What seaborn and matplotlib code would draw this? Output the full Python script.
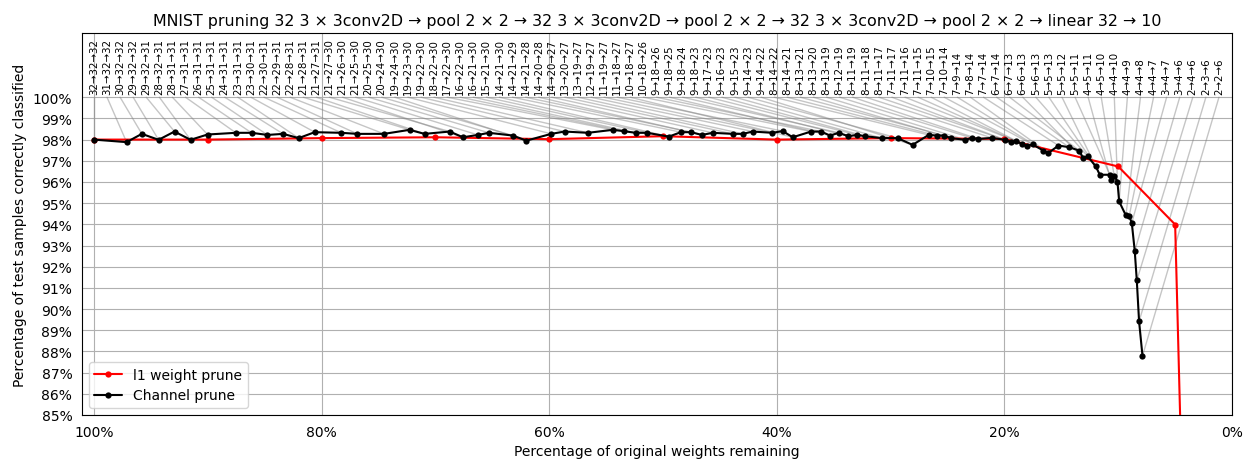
import numpy as np
import pandas as pd
import matplotlib
matplotlib.use("Agg")
import matplotlib.pyplot as plt
import seaborn as sns

title = ("MNIST pruning 32 3 × 3conv2D → pool 2 × 2 → 32 3 × 3conv2D → pool 2 × 2 → "
         "32 3 × 3conv2D → pool 2 × 2 → linear 32 → 10")
x_label = "Percentage of original weights remaining"
y_label = "Percentage of test samples correctly classified"

channel_labels = [
    "32→32→32", "31→32→32", "30→32→32", "29→32→32", "29→32→31", "28→32→31",
    "28→31→31", "27→31→31", "26→31→31", "25→31→31", "24→31→31", "23→31→31",
    "23→30→31", "22→30→31", "22→29→31", "22→28→31", "21→28→31", "21→27→31",
    "21→27→30", "21→26→30", "21→25→30", "20→25→30", "20→24→30", "19→24→30",
    "19→23→30", "19→22→30", "18→22→30", "17→22→30", "16→22→30", "16→21→30",
    "15→21→30", "14→21→30", "14→21→29", "14→21→28", "14→20→28", "14→20→27",
    "13→20→27", "13→19→27", "12→19→27", "11→19→27", "11→18→27", "10→18→27",
    "10→18→26", "9→18→26", "9→18→25", "9→18→24", "9→18→23", "9→17→23",
    "9→16→23", "9→15→23", "9→14→23", "9→14→22", "8→14→22", "8→14→21",
    "8→13→21", "8→13→20", "8→13→19", "8→12→19", "8→11→19", "8→11→18",
    "8→11→17", "7→11→17", "7→11→16", "7→11→15", "7→10→15", "7→10→14",
    "7→9→14", "7→8→14", "7→7→14", "6→7→14", "6→7→13", "6→6→13",
    "5→6→13", "5→5→13", "5→5→12", "5→5→11", "4→5→11", "4→5→10",
    "4→4→10", "4→4→9", "4→4→8", "4→4→7", "3→4→7", "3→4→6",
    "2→4→6", "2→3→6", "2→2→6",
]

channel_x = [
    100.0, 97.13, 95.79, 94.32, 92.92, 91.51, 90.02, 87.53, 86.15, 84.75,
    83.38, 82.01, 80.60, 78.26, 76.86, 74.52, 72.27, 70.95, 68.74, 67.58,
    66.26, 65.29, 63.18, 62.01, 59.82, 58.65, 56.60, 54.41, 53.47, 52.41,
    51.39, 49.49, 48.43, 47.52, 46.59, 45.62, 43.87, 42.99, 42.11, 40.41,
    39.48, 38.60, 36.99, 36.11, 35.32, 34.56, 33.71, 32.95, 32.22, 30.79,
    29.38, 28.07, 26.66, 25.96, 25.29, 24.70, 23.44, 22.89, 22.30, 21.10,
    19.96, 19.43, 18.99, 18.47, 18.06, 17.53, 16.57, 16.13, 15.25, 14.31,
    13.43, 13.08, 12.70, 11.97, 11.62, 10.74, 10.65, 10.36, 10.07, 9.92,
    9.33, 9.04, 8.81, 8.55, 8.37, 8.17, 7.87,
]
channel_y = [
    98.00, 97.88, 98.27, 97.99, 98.38, 97.99, 98.24, 98.32, 98.32, 98.22,
    98.27, 98.07, 98.35, 98.32, 98.27, 98.27, 98.46, 98.27, 98.38, 98.11,
    98.22, 98.32, 98.19, 97.95, 98.27, 98.38, 98.32, 98.46, 98.40, 98.32,
    98.32, 98.14, 98.35, 98.35, 98.22, 98.32, 98.27, 98.27, 98.38, 98.32,
    98.40, 98.11, 98.38, 98.38, 98.19, 98.32, 98.16, 98.22, 98.16, 98.07,
    98.07, 97.75, 98.22, 98.19, 98.19, 98.07, 97.99, 98.08, 98.03, 98.08,
    97.99, 97.88, 97.93, 97.80, 97.69, 97.77, 97.48, 97.37, 97.72, 97.64,
    97.48, 97.12, 97.22, 96.73, 96.34, 96.34, 96.07, 96.30, 96.02, 95.08,
    94.42, 94.39, 94.07, 92.74, 91.35, 89.42, 87.79,
]

l1_x = [100, 90, 80, 70, 60, 50, 40, 30, 20, 10, 5, 1]
l1_y = [98.00, 98.00, 98.07, 98.11, 98.02, 98.16, 98.00, 98.07, 98.03, 96.73, 93.99, 11.35]

x_ticks = [100, 80, 60, 40, 20, 0]
y_ticks = list(range(85, 101))

sns.set_style("white")
plt.rcParams["font.family"] = ["DejaVu Sans"]
plt.rcParams.update({
    "text.color": "black",
    "axes.labelcolor": "black",
    "xtick.color": "black",
    "ytick.color": "black",
    "axes.edgecolor": "black",
})

fig, ax = plt.subplots(figsize=(12.44, 4.6), dpi=100)
fig.subplots_adjust(left=0.0659, right=0.9904, top=0.926, bottom=0.0957)

label_pos = np.linspace(100, 0, len(channel_labels) + 1)[:-1]
for lx, x, y, txt in zip(label_pos, channel_x, channel_y, channel_labels):
    ax.plot([lx, x], [100, y], color="gray", alpha=0.45, lw=1, zorder=1)
    ax.text(lx, 100.15, txt, rotation=90, ha="center", va="bottom", fontsize=7.4,
            color="black")

l1_df = pd.DataFrame({"x": l1_x, "y": l1_y})
ch_df = pd.DataFrame({"x": channel_x, "y": channel_y})

sns.lineplot(data=l1_df, x="x", y="y", color="red", marker="o", markersize=4.5,
             markeredgewidth=0, lw=1.5, sort=False, estimator=None,
             label="l1 weight prune", ax=ax, zorder=3)
sns.lineplot(data=ch_df, x="x", y="y", color="black", marker="o", markersize=4.5,
             markeredgewidth=0, lw=1.5, sort=False, estimator=None,
             label="Channel prune", ax=ax, zorder=4)

ax.set_xlim(101.05, 0)
ax.set_ylim(85, 103.03)
ax.set_xticks(x_ticks)
ax.set_xticklabels([f"{v}%" for v in x_ticks])
ax.set_yticks(y_ticks)
ax.set_yticklabels([f"{v}%" for v in y_ticks])
ax.grid(True, color="#b0b0b0", lw=0.8)
ax.tick_params(axis="both", direction="out", length=3.5, width=0.8, labelsize=10,
               colors="black")
for s in ax.spines.values():
    s.set_color("black")
    s.set_linewidth(0.8)

ax.set_xlabel(x_label, fontsize=10, color="black")
ax.set_ylabel(y_label, fontsize=10, color="black")
ax.set_title(title, fontsize=11.4, color="black")
ax.legend(loc="lower left", fontsize=10)

fig.savefig("out.png", dpi=100)
